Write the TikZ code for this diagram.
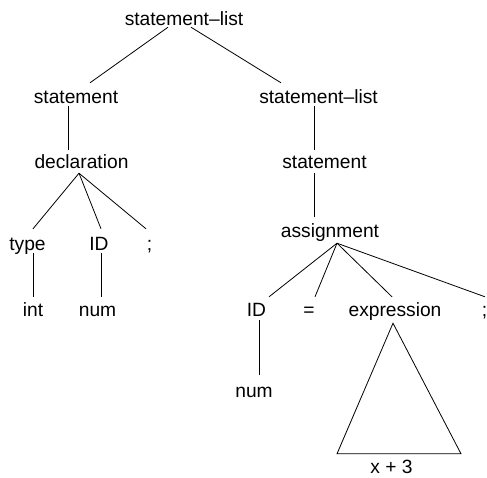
\documentclass[tikz,border=0pt]{standalone}
\usepackage{fontspec}
\setmainfont{Liberation Sans}
\tikzset{
  tn/.style={inner sep=0pt, text height=14pt, text depth=0pt, anchor=base, font=\fontsize{19.2}{23}\selectfont},
  ln/.style={line width=0.8pt, black}
}
\begin{document}
\begin{tikzpicture}[x=1pt,y=-1pt]
\useasboundingbox (0,0) rectangle (487,477);
% nodes
\node[tn] (root) at (184,25) {statement\textendash list};
\node[tn] (stmtL) at (76,103) {statement};
\node[tn] (stmtR) at (318.5,103) {statement\textendash list};
\node[tn] (decl) at (81.5,168) {declaration};
\node[tn] (stmt2) at (324.5,168.5) {statement};
\node[tn] (type) at (27.5,250) {type};
\node[tn] (idL) at (99,250) {ID};
\node[tn] (semiL) at (149.5,250) {;};
\node[tn] (assign) at (330,237) {assignment};
\node[tn] (int) at (33,316) {int};
\node[tn] (numL) at (97.5,316) {num};
\node[tn] (idR) at (256.5,316) {ID};
\node[tn] (eq) at (309,316) {=};
\node[tn] (expr) at (395,316) {expression};
\node[tn] (semiR) at (484.5,316) {;};
\node[tn] (numR) at (254,397) {num};
\node[tn] (xp) at (391.5,473) {x + 3};
% connectors
\draw[ln] ([xshift=-16pt,yshift=-2pt]root.south) -- ([xshift=14pt,yshift=6pt]stmtL.north);
\draw[ln] ([xshift=7pt,yshift=-2pt]root.south) -- ([xshift=-37.5pt,yshift=6pt]stmtR.north);
\draw[ln] ([xshift=-8pt,yshift=-3pt]stmtL.south) -- ([xshift=-13.5pt,yshift=4pt]decl.north);
\draw[ln] ([xshift=-4.5pt,yshift=-3pt]stmtR.south) -- ([xshift=-10.5pt,yshift=4.5pt]stmt2.north);
\draw[ln] ([xshift=-2.5pt,yshift=-5pt]decl.south) -- ([xshift=5.5pt,yshift=7pt]type.north);
\draw[ln] ([xshift=-2.5pt,yshift=-5pt]decl.south) -- ([xshift=2pt,yshift=7pt]idL.north);
\draw[ln] ([xshift=-2.5pt,yshift=-5pt]decl.south) -- ([xshift=-3.5pt,yshift=7pt]semiL.north);
\draw[ln] ([xshift=5.5pt,yshift=-3pt]type.south) -- ([yshift=5pt]int.north);
\draw[ln] ([xshift=2pt,yshift=-3pt]idL.south) -- ([xshift=3.5pt,yshift=5pt]numL.north);
\draw[ln] ([xshift=-10.5pt,yshift=-4.5pt]stmt2.south) -- ([xshift=-16pt,yshift=6pt]assign.north);
\draw[ln] ([xshift=7pt,yshift=-6pt]assign.south) -- ([xshift=12.5pt,yshift=5pt]idR.north);
\draw[ln] ([xshift=7pt,yshift=-6pt]assign.south) -- ([xshift=6pt,yshift=5pt]eq.north);
\draw[ln] ([xshift=7pt,yshift=-6pt]assign.south) -- ([xshift=-3pt,yshift=5pt]expr.north);
\draw[ln] ([xshift=7pt,yshift=-6pt]assign.south) -- ([xshift=0.5pt,yshift=5pt]semiR.north);
\draw[ln] ([xshift=2.5pt,yshift=-4pt]idR.south) -- ([xshift=5pt,yshift=8pt]numR.north);
\draw[ln] ([xshift=-2pt,yshift=-7pt]expr.south) -- ([xshift=-54.5pt,yshift=5pt]xp.north) -- ([xshift=69.5pt,yshift=5pt]xp.north) -- cycle;
\end{tikzpicture}
\end{document}
